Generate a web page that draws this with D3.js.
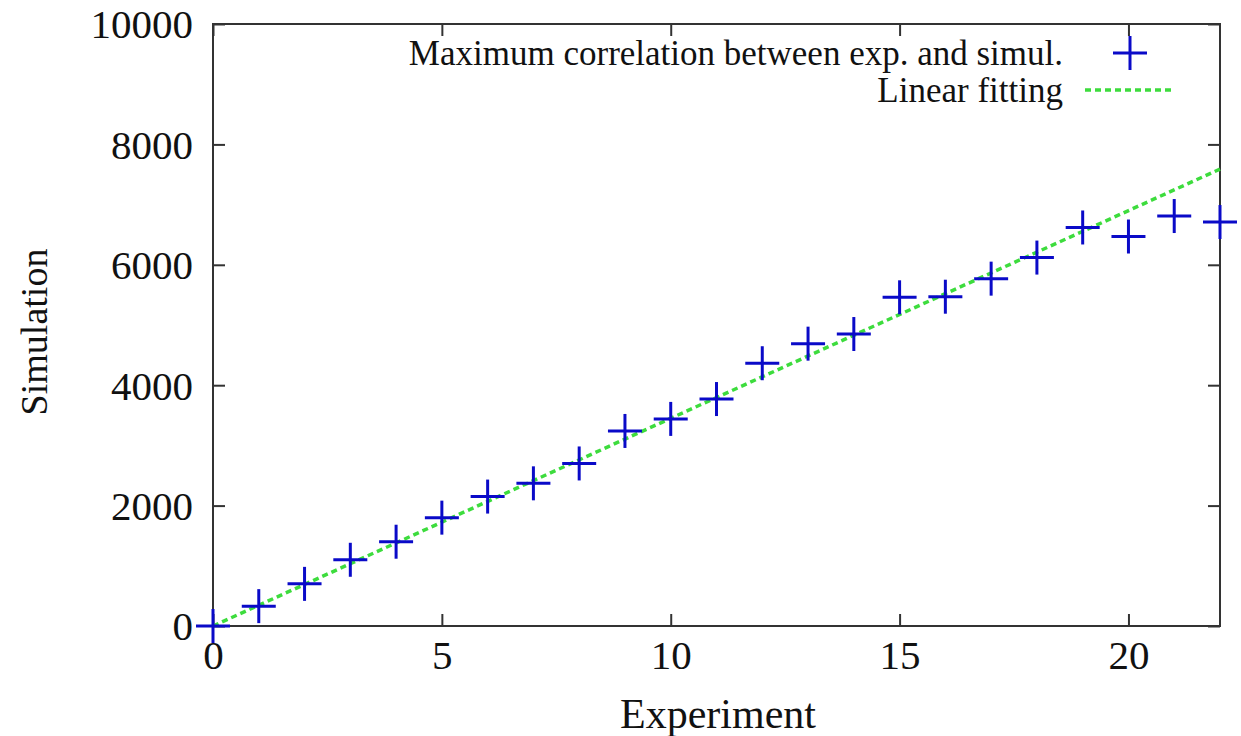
<!DOCTYPE html>
<html>
<head>
<meta charset="utf-8">
<script src="https://cdn.jsdelivr.net/npm/d3@7"></script>
<style>
  html, body { margin: 0; padding: 0; background: #fff; }
  svg { display: block; }
  text { font-family: "Liberation Serif", "Times New Roman", serif; fill: #111; }
</style>
</head>
<body>
<svg id="chart" width="1241" height="736"></svg>
<script>
// ---- Data ----
const experiment = [0, 1, 2, 3, 4, 5, 6, 7, 8, 9, 10, 11, 12, 13, 14, 15, 16, 17, 18, 19, 20, 21, 22];
const simulation = [0, 330, 700, 1100, 1400, 1800, 2150, 2370, 2700, 3240, 3440, 3770, 4365, 4690, 4850, 5460, 5470, 5770, 6120, 6620, 6470, 6810, 6710];
const fitX = [0, 22];
const fitY = [0, 7590];
const xTicks = [0, 5, 10, 15, 20];
const yTicks = [0, 2000, 4000, 6000, 8000, 10000];
const seriesLabels = ["Maximum correlation between exp. and simul.", "Linear fitting"];
const xTitle = "Experiment";
const yTitle = "Simulation";

// ---- Layout ----
const svg = d3.select("#chart");
const mL = 213, mR = 1220, mT = 24, mB = 626;
const x = d3.scaleLinear().domain([0, 22]).range([mL, mR]);
const y = d3.scaleLinear().domain([0, 10000]).range([mB, mT]);

const blue = "#0a0ac8";
const green = "#3ddc3d";
const frameColor = "#333";
const fmt = d3.format("d");

// Axes with inward ticks
const gx = svg.append("g").attr("transform", `translate(0,${mB})`)
  .call(d3.axisBottom(x).tickValues(xTicks).tickFormat(fmt).tickSizeInner(-12).tickSizeOuter(0).tickPadding(14));
const gxTop = svg.append("g").attr("transform", `translate(0,${mT})`)
  .call(d3.axisTop(x).tickValues(xTicks).tickSizeInner(-12).tickSizeOuter(0).tickFormat(""));
const gy = svg.append("g").attr("transform", `translate(${mL},0)`)
  .call(d3.axisLeft(y).tickValues(yTicks).tickFormat(fmt).tickSizeInner(-12).tickSizeOuter(0).tickPadding(20));
const gyRight = svg.append("g").attr("transform", `translate(${mR},0)`)
  .call(d3.axisRight(y).tickValues(yTicks).tickSizeInner(-12).tickSizeOuter(0).tickFormat(""));

[gx, gxTop, gy, gyRight].forEach(g => {
  g.select(".domain").remove();
  g.selectAll(".tick line").attr("stroke", frameColor).attr("stroke-width", 2);
  g.selectAll(".tick text").attr("font-size", 41).attr("fill", "#111")
    .attr("font-family", "Liberation Serif, serif");
});
gx.selectAll(".tick text").attr("dy", "0.71em");
gy.selectAll(".tick text").attr("dy", "0.34em");

// Frame
svg.append("rect")
  .attr("x", mL).attr("y", mT)
  .attr("width", mR - mL).attr("height", mB - mT)
  .attr("fill", "none").attr("stroke", frameColor).attr("stroke-width", 2);

// Fit line
const line = d3.line().x(d => x(d[0])).y(d => y(d[1]));
svg.append("path")
  .datum(fitX.map((v, i) => [v, fitY[i]]))
  .attr("d", line)
  .attr("fill", "none").attr("stroke", green).attr("stroke-width", 3.5)
  .attr("stroke-dasharray", "6,4");

// Plus markers
const half = 17;
const pts = svg.append("g").selectAll("g").data(experiment.map((v, i) => [v, simulation[i]]))
  .join("g").attr("transform", d => `translate(${x(d[0])},${y(d[1])})`);
pts.append("line").attr("x1", -half).attr("x2", half).attr("y1", 0).attr("y2", 0)
  .attr("stroke", blue).attr("stroke-width", 3);
pts.append("line").attr("x1", 0).attr("x2", 0).attr("y1", -half).attr("y2", half)
  .attr("stroke", blue).attr("stroke-width", 3);

// Legend
const legTextX = 1063;
svg.append("text").attr("x", legTextX).attr("y", 53).attr("dy", "0.35em")
  .attr("text-anchor", "end").attr("font-size", 35).text(seriesLabels[0]);
svg.append("text").attr("x", legTextX).attr("y", 90).attr("dy", "0.35em")
  .attr("text-anchor", "end").attr("font-size", 35).text(seriesLabels[1]);
const lp = svg.append("g").attr("transform", `translate(1130,53)`);
lp.append("line").attr("x1", -half).attr("x2", half).attr("stroke", blue).attr("stroke-width", 3);
lp.append("line").attr("y1", -half).attr("y2", half).attr("stroke", blue).attr("stroke-width", 3);
svg.append("line").attr("x1", 1085).attr("x2", 1175).attr("y1", 90).attr("y2", 90)
  .attr("stroke", green).attr("stroke-width", 3.5).attr("stroke-dasharray", "6,4");

// Axis titles
svg.append("text").attr("x", 718).attr("y", 728)
  .attr("text-anchor", "middle").attr("font-size", 42).text(xTitle);
svg.append("text").attr("transform", `translate(47,332) rotate(-90)`)
  .attr("text-anchor", "middle").attr("font-size", 38).text(yTitle);
</script>
</body>
</html>
